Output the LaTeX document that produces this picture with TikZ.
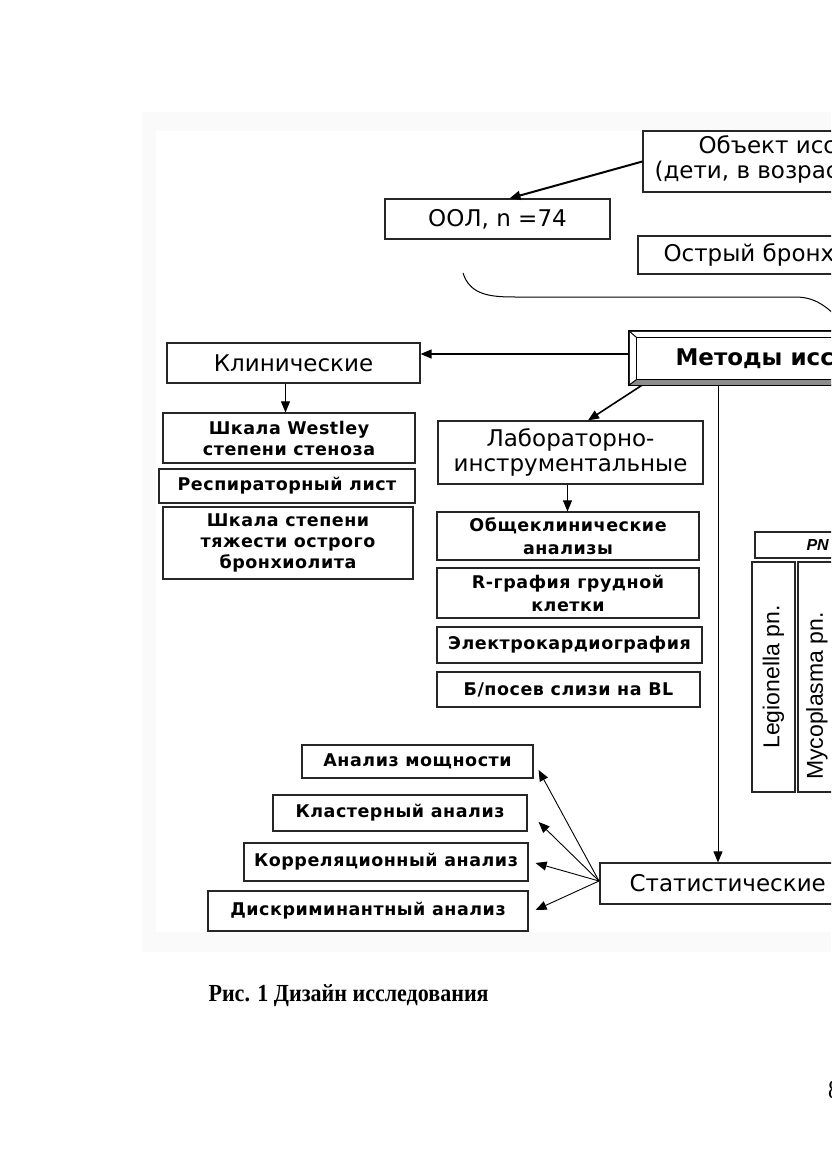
\documentclass[tikz,border=0pt]{standalone}
\usepackage{fontspec}
\setmainfont{DejaVu Sans}
\newfontfamily\labfont[LetterSpace=3]{DejaVu Sans}
\newfontfamily\latfont{Liberation Sans}
\newfontfamily\capfont[FakeStretch=0.9]{Liberation Serif}
\usetikzlibrary{arrows.meta}

\begin{document}
\begin{tikzpicture}[x=1pt,y=-1pt,>={Triangle[length=11pt,width=9pt]},
                    box/.style={draw=black!85,line width=1.2pt,rectangle,inner sep=0pt,align=center},
                    big/.style={font=\fontsize{23}{25}\selectfont},
                    small/.style={font=\labfont\bfseries\fontsize{17.5}{21}\selectfont},
                    thin/.style={line width=0.9pt}]
  \useasboundingbox (0,0) rectangle (831,1174);
  \clip (0,0) rectangle (831,1174);
  % grey frame of the scanned figure
  \fill[black!2] (142,112) rectangle (831,952);
  \fill[white] (156,131) rectangle (831,932);

  % top: object of the study
  \node[box,minimum width=347pt,minimum height=61pt] (obj) at (816.5,161.5) {};
  \node[big,anchor=west] (obj1) at (695,145) {Объект исс};
  \node[big,anchor=west] (obj2) at (651,172) {(дети, в возраст};
  \node[box,big,minimum width=225pt,minimum height=40pt] (ool) at (497.5,219) {ООЛ, n =74};
  \node[box,minimum width=352pt,minimum height=38pt] (bronch) at (814,255) {};
  \node[big,anchor=west] (bronch1) at (660,255) {Острый бронх};
  \draw[line width=1pt] (463,273) .. controls (470,295) and (490,297) .. (515,297)
    -- (795,297) .. controls (815,297) and (826,306) .. (840,320);

  % methods
  \node[box,minimum width=361pt,minimum height=54pt] (methods) at (809.5,358) {};
  \fill[black!45] (methods.south west) -- ([xshift=8pt,yshift=6pt]methods.south west)
    -- ([yshift=6pt]methods.south east) -- (methods.south east) -- cycle;
  \draw[line width=1pt] ([xshift=8pt,yshift=-7pt]methods.north west) rectangle ([yshift=6pt]methods.south east);
  \draw[line width=1pt] (methods.north west) -- ++(8pt,-7pt);
  \draw[line width=1pt] (methods.south west) -- ++(8pt,6pt);
  \draw[line width=1.2pt] (methods.north west) rectangle (methods.south east);
  \node[anchor=west,font=\bfseries\fontsize{23}{25}\selectfont] (methods1) at (672,359) {Методы исс};

  % clinical
  \node[box,big,minimum width=253pt,minimum height=40pt] (clin) at (293.5,363) {Клинические};
  \node[box,small,minimum width=252pt,minimum height=50pt] (westley) at (289,438) {Шкала Westley\\степени стеноза};
  \node[box,small,minimum width=256pt,minimum height=34pt] (resp) at (287,486) {Респираторный лист};
  \node[box,small,minimum width=250pt,minimum height=72pt] (heavy) at (288,543) {Шкала степени\\тяжести острого\\бронхиолита};

  % laboratory
  \node[box,big,minimum width=265pt,minimum height=63pt] (lab) at (570.5,452.5) {Лабораторно-\\инструментальные};
  \node[box,small,minimum width=262pt,minimum height=48pt] (gen) at (568,536) {Общеклинические\\[2pt]анализы};
  \node[box,small,minimum width=262pt,minimum height=50pt] (xray) at (568,593) {R-графия грудной\\[2pt]клетки};
  \node[box,small,minimum width=265pt,minimum height=36pt] (ecg) at (569.5,645) {Электрокардиография};
  \node[box,small,minimum width=263pt,minimum height=35pt] (bl) at (568.5,689.5) {Б/посев слизи на BL};

  % pathogens
  \node[box,minimum width=235pt,minimum height=26pt] (pn) at (872.5,545) {};
  \node[anchor=west,font=\latfont\bfseries\itshape\fontsize{16}{18}\selectfont] (pn1) at (803,545) {PN};
  \node[box,minimum width=43pt,minimum height=230pt] (leg) at (773.5,677)
    {\rotatebox{90}{\latfont\fontsize{23}{25}\selectfont Legionella pn.}};
  \node[box,minimum width=72pt,minimum height=230pt] (myco) at (834,677) {};
  \node[font=\latfont\fontsize{23}{25}\selectfont,rotate=90] (myco1) at (817,696) {Mycoplasma pn.};

  % statistics
  \node[box,minimum width=390pt,minimum height=41pt] (stat) at (795,883.5) {};
  \node[big,anchor=west] (stat1) at (626,883) {Статистические};
  \node[box,small,minimum width=231pt,minimum height=33pt] (power) at (417.5,761.5) {Анализ мощности};
  \node[box,small,minimum width=254pt,minimum height=36pt] (cluster) at (400,813) {Кластерный анализ};
  \node[box,small,minimum width=284pt,minimum height=38pt] (corr) at (386,862) {Корреляционный анализ};
  \node[box,small,minimum width=320pt,minimum height=40pt] (discr) at (368,911) {Дискриминантный анализ};

  \coordinate (m1) at (629,354);
  \coordinate (m2) at (718,385);
  \coordinate (hub) at (599,881);

  \draw[->,line width=2pt] (obj.west) -- ([xshift=12pt]ool.north);
  \draw[->,line width=1.6pt] (m1) -- (m1 -| clin.east);
  \draw[->,line width=1.6pt] ([xshift=13pt]methods.south west) -- ([xshift=17.5pt]lab.north);
  \draw[->,thin] ([xshift=-8pt]clin.south) -- ([xshift=-8pt]clin.south |- westley.north);
  \draw[->,thin] ([xshift=-3pt]lab.south) -- ([xshift=-3pt]lab.south |- gen.north);
  \draw[->,thin] (m2) -- (m2 |- stat.north);
  \draw[->,thin] (hub) -- ([xshift=5pt,yshift=-8.5pt]power.east);
  \draw[->,thin] (hub) -- ([xshift=11pt,yshift=-9pt]cluster.east);
  \draw[->,thin] (hub) -- ([xshift=7pt,yshift=-1pt]corr.east);
  \draw[->,thin] (hub) -- ([xshift=7pt,yshift=1pt]discr.east);

  % caption and page number
  \node[anchor=west,font=\capfont\bfseries\fontsize{24.5}{28}\selectfont] (caption) at (205,996) {Рис. 1 Дизайн исследования};
  \node[font=\capfont\fontsize{26}{30}\selectfont] (page) at (834,1090) {8};
\end{tikzpicture}
\end{document}
